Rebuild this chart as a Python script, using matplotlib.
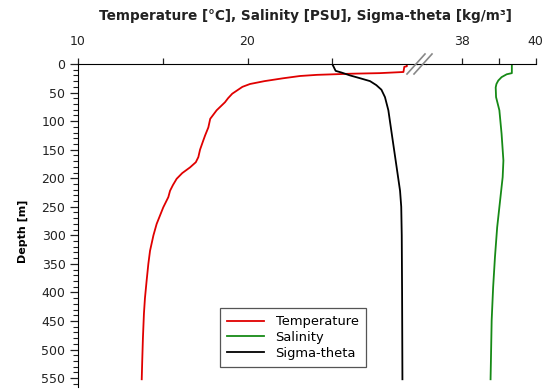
import matplotlib
matplotlib.use('Agg')
import matplotlib.pyplot as plt
from matplotlib.lines import Line2D
from matplotlib.ticker import MultipleLocator

# CTD cast profiles
temp_depth = [0, 4, 5, 14, 16, 17, 19, 21, 25, 30, 35, 40, 46, 52, 60, 67, 81, 96,
              111, 125, 134, 150, 163, 172, 181, 191, 201, 212, 222, 233, 251, 280,
              300, 327, 350, 379, 410, 437, 480, 519, 552]
temp = [29.4, 29.4, 29.25, 29.2, 27.8, 26.1, 24.1, 23.1, 22.1, 21.0, 20.15, 19.7,
        19.4, 19.1, 18.85, 18.67, 18.18, 17.8, 17.69, 17.5, 17.39, 17.2, 17.1, 16.95,
        16.61, 16.15, 15.82, 15.6, 15.43, 15.33, 15.03, 14.64, 14.45, 14.25, 14.15,
        14.05, 13.95, 13.89, 13.83, 13.79, 13.76]

sal_depth = [0, 16, 18, 23, 29, 35, 41, 58, 81, 122, 169, 198, 239, 286, 338, 391,
             449, 519, 552]
sal = [39.35, 39.35, 39.21, 39.07, 38.98, 38.93, 38.91, 38.92, 39.01, 39.07, 39.12,
       39.10, 39.03, 38.95, 38.89, 38.84, 38.80, 38.78, 38.77]

sig_depth = [0, 12, 15, 20, 25, 30, 37, 45, 58, 81, 122, 181, 222, 250, 300, 400, 552]
sigma = [25.0, 25.2, 25.55, 26.05, 26.65, 27.23, 27.6, 27.9, 28.11, 28.31, 28.51,
         28.80, 29.0, 29.07, 29.1, 29.12, 29.14]

W, H = 543, 389
fig = plt.figure(figsize=(W / 100, H / 100), dpi=100)

def px(x0, y0, x1, y1):
    # pixel box -> figure fraction [left, bottom, width, height]
    return [x0 / W, 1 - y1 / H, (x1 - x0) / W, (y1 - y0) / H]

# broken x axis: temperature/sigma on the left part, salinity on the right
ax1 = fig.add_axes(px(78, 64, 417, 386.7))
ax2 = fig.add_axes(px(425.6, 64, 535.7, 386.7), sharey=ax1)

ax1.plot(temp, temp_depth, color='#e00000', lw=1.3, label='Temperature')
ax2.plot(sal, sal_depth, color='#168a16', lw=1.3)
ax1.plot([], [], color='#168a16', lw=1.3, label='Salinity')
ax1.plot(sigma, sig_depth, color='black', lw=1.3, label='Sigma-theta')

ax1.set_xlim(10, 30)
ax2.set_xlim(37, 40)
ax1.set_ylim(565, 0)

for ax in (ax1, ax2):
    ax.xaxis.tick_top()
    for s in ('right', 'bottom'):
        ax.spines[s].set_visible(False)
    ax.tick_params(axis='x', direction='out', length=4, width=0.9,
                   labelsize=9, colors='#222', pad=7.5)
ax2.spines['left'].set_visible(False)

ax1.set_xticks([10, 15, 20, 25])
ax1.set_xticklabels(['10', '', '20', ''])
ax2.set_xticks([38, 39, 40])
ax2.set_xticklabels(['38', '', '40'])

ax1.yaxis.set_major_locator(MultipleLocator(50))
ax1.yaxis.set_minor_locator(MultipleLocator(10))
ax1.tick_params(axis='y', which='major', direction='out', length=6, width=0.9,
                labelsize=9, colors='#222', pad=3)
ax1.tick_params(axis='y', which='minor', direction='out', length=3.5, width=0.8,
                colors='#222')
ax2.tick_params(axis='y', which='both', left=False, labelleft=False)
ax1.set_ylabel('Depth [m]', fontsize=8, fontweight='bold')
ax1.yaxis.set_label_coords(-0.148, 0.48)

# top spine across the gap + break marks
fig.add_artist(Line2D([417 / W, 425.6 / W], [1 - 64 / H] * 2, color='black', lw=0.8))
for x0 in (407, 414):
    fig.add_artist(Line2D([x0 / W, (x0 + 18) / W], [1 - 74 / H, 1 - 54 / H],
                          color='#888', lw=1.2))

fig.text(305 / W, 1 - 16 / H, 'Temperature [°C], Salinity [PSU], Sigma-theta [kg/m³]',
         ha='center', va='center', fontsize=9.8, fontweight='bold', color='#222')

leg = ax1.legend(loc='lower left', bbox_to_anchor=(0.419, 0.061), borderaxespad=0,
                 fontsize=9.4, fancybox=False, edgecolor='#555', framealpha=1,
                 borderpad=0.55, handlelength=2.8, handletextpad=0.9,
                 labelspacing=0.22)
leg.get_frame().set_linewidth(0.9)

plt.savefig('out.png', dpi=100)
